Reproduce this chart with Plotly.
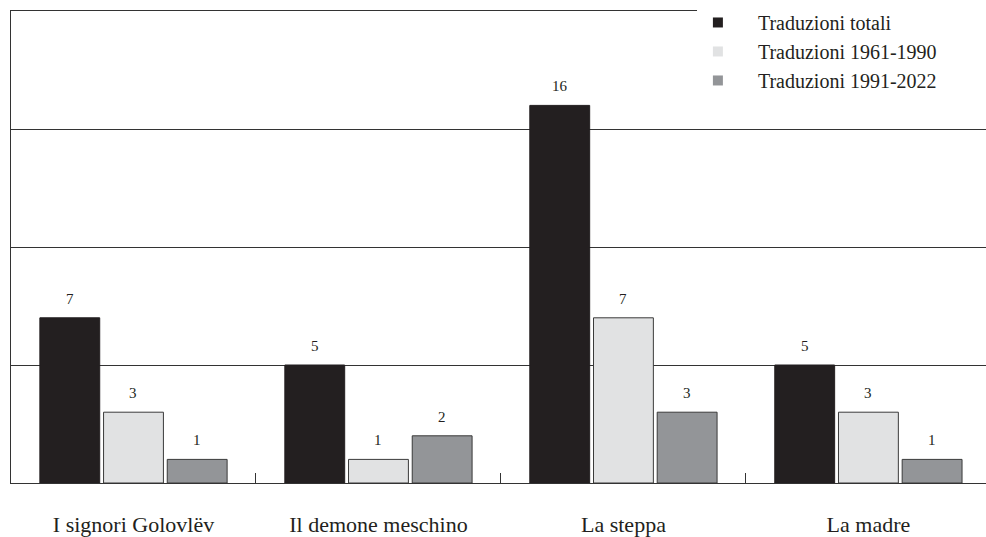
import plotly.graph_objects as go

categories = ["I signori Golovlëv", "Il demone meschino", "La steppa", "La madre"]
series_names = ["Traduzioni totali", "Traduzioni 1961-1990", "Traduzioni 1991-2022"]
totali = [7, 5, 16, 5]
t_1961_1990 = [3, 1, 7, 3]
t_1991_2022 = [1, 2, 3, 1]

values = [totali, t_1961_1990, t_1991_2022]
fills = ["#231f20", "#e1e2e3", "#939598"]
outlines = ["#231f20", "#3a3a3a", "#3a3a3a"]

FONT = "Liberation Serif"
W, H = 986, 537
ML, MR, MT, MB = 11, 0, 11, 52
XRANGE = [-0.5, 3.48]
BARGAP, BARGROUPGAP = 0.22, 0.06

fig = go.Figure()
for name, vals, fc, lc in zip(series_names, values, fills, outlines):
    fig.add_trace(go.Bar(
        x=categories, y=vals, name=name,
        marker=dict(color=fc, line=dict(color=lc, width=1)),
        showlegend=False,
    ))
for i, (name, fc) in enumerate(zip(series_names, fills)):
    fig.add_trace(go.Scatter(
        x=[None], y=[None], mode="markers", name=name,
        marker=dict(symbol="square", size=10, color=fc, line=dict(width=0)),
        legendgroup=f"g{i}", showlegend=True,
    ))

# value labels above bars (offset within each category group)
px_per_cat = (W - ML - MR) / (XRANGE[1] - XRANGE[0])
slot = px_per_cat * (1 - BARGAP) / len(series_names)
for si, vals in enumerate(values):
    for cat, v in zip(categories, vals):
        fig.add_annotation(
            x=cat, y=v, xref="x", yref="y", text=str(v), showarrow=False,
            xshift=(si - 1) * slot, yshift=19, yanchor="middle",
            font=dict(family=FONT, size=15, color="#231f20"),
        )

# white mask hiding the top frame line behind the legend area
fig.add_shape(type="rect", xref="paper", yref="paper",
              x0=0.7036, x1=1.02, y0=0.99, y1=1.02,
              fillcolor="white", line=dict(width=0), layer="above")

fig.update_layout(
    width=W, height=H,
    margin=dict(l=ML, r=MR, t=MT, b=MB),
    paper_bgcolor="white", plot_bgcolor="white",
    barmode="group", bargap=BARGAP, bargroupgap=BARGROUPGAP,
    font=dict(family=FONT, size=21, color="#231f20"),
    legend=dict(
        x=0.684, xanchor="left", y=1.017, yanchor="top",
        bgcolor="rgba(0,0,0,0)", borderwidth=0,
        font=dict(family=FONT, size=20, color="#231f20"),
        itemwidth=70, tracegroupgap=0,
    ),
    xaxis=dict(
        range=XRANGE, showline=True, linecolor="#333333", linewidth=1,
        mirror=True, ticks="inside", ticklen=10, tickcolor="#333333",
        tickson="boundaries", showgrid=False, ticklabelstandoff=22,
        tickfont=dict(family=FONT, size=22, color="#231f20"),
    ),
    yaxis=dict(
        range=[0, 20], dtick=5, showgrid=True, gridcolor="#333333", gridwidth=1,
        showline=True, linecolor="#333333", linewidth=1, showticklabels=False,
        zeroline=False, ticks="",
    ),
)

fig.write_html("out.html", config={"displayModeBar": False},
               post_script="document.body.style.margin='0';")
